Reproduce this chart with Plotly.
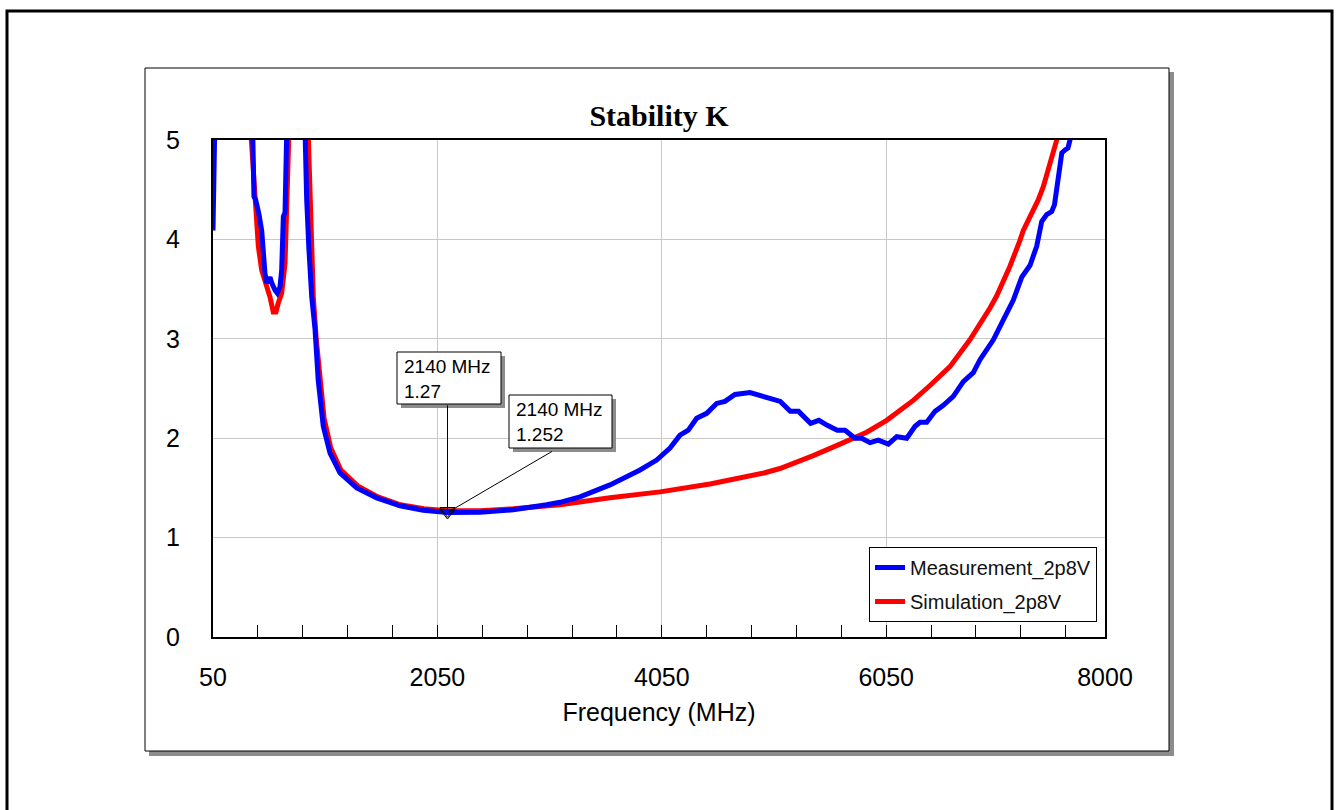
import plotly.graph_objects as go

# ---- data -------------------------------------------------------------
meas_freq = [50, 60, 200, 380, 409, 415, 430, 442, 460, 484, 498, 513, 529, 545,
             558, 574, 588, 603, 623, 647, 662, 677, 692, 707, 721, 740, 780, 830,
             866, 885, 905, 930, 959, 988, 1033, 1093, 1182, 1331, 1509, 1717,
             1924, 2140, 2430, 2726, 3024, 3143, 3321, 3588, 3856, 4004, 4123,
             4212, 4286, 4361, 4450, 4539, 4613, 4702, 4836, 4955, 5106, 5195,
             5269, 5376, 5450, 5525, 5614, 5683, 5772, 5831, 5906, 5980, 6069,
             6144, 6233, 6307, 6351, 6411, 6485, 6559, 6648, 6737, 6826, 6886,
             7005, 7094, 7183, 7258, 7332, 7391, 7436, 7480, 7525, 7550, 7585,
             7615, 7644, 7670, 7688, 7720]
meas_k = [4.09, 12.0, 14.0, 6.5, 5.0, 4.43, 4.40, 4.35, 4.25, 4.09, 3.76, 3.66,
          3.56, 3.60, 3.62, 3.56, 3.52, 3.49, 3.46, 3.52, 3.69, 4.23, 4.27, 4.77,
          5.0, 6.5, 9.0, 7.0, 5.05, 4.4, 3.9, 3.42, 3.1, 2.58, 2.12, 1.85, 1.65,
          1.50, 1.40, 1.32, 1.275, 1.252, 1.255, 1.28, 1.33, 1.355, 1.41, 1.53,
          1.68, 1.78, 1.90, 2.03, 2.08, 2.20, 2.25, 2.35, 2.37, 2.44, 2.46, 2.42,
          2.37, 2.27, 2.27, 2.15, 2.18, 2.13, 2.08, 2.08, 2.0, 2.0, 1.955, 1.98,
          1.94, 2.015, 2.0, 2.12, 2.16, 2.16, 2.27, 2.33, 2.42, 2.57, 2.66, 2.79,
          2.99, 3.19, 3.39, 3.62, 3.74, 3.93, 4.18, 4.25, 4.28, 4.35, 4.60, 4.87,
          4.90, 4.92, 5.0, 5.3]

sim_freq = [50, 200, 389, 424, 454, 484, 529, 558, 587, 611, 632, 662, 692, 707,
            727, 760, 830, 899, 920, 944, 970, 1000, 1040, 1100, 1190, 1340, 1520,
            1720, 1930, 2140, 2430, 2726, 3024, 3143, 3588, 4034, 4480, 4836, 4960,
            5103, 5250, 5400, 5638, 5876, 6054, 6291, 6440, 6589, 6618, 6796, 6915,
            6975, 7034, 7153, 7242, 7272, 7332, 7406, 7450, 7570, 7620]
sim_k = [20.0, 12.0, 5.05, 4.33, 3.93, 3.69, 3.54, 3.42, 3.27, 3.27, 3.36, 3.46,
         3.76, 4.27, 5.0, 8.0, 9.0, 5.05, 4.3, 3.42, 3.0, 2.62, 2.2, 1.9, 1.68,
         1.52, 1.41, 1.33, 1.29, 1.27, 1.27, 1.29, 1.31, 1.33, 1.40, 1.46, 1.54,
         1.62, 1.65, 1.695, 1.755, 1.825, 1.94, 2.06, 2.18, 2.38, 2.53, 2.69,
         2.72, 2.99, 3.19, 3.31, 3.43, 3.73, 3.99, 4.09, 4.23, 4.40, 4.53, 5.0,
         5.4]

marker_freq = 2140
marker_sim_k = 1.27
marker_meas_k = 1.252

x_tick_vals = [50, 2050, 4050, 6050, 8000]
x_tick_text = ["50", "2050", "4050", "6050", "8000"]
x_minor_ticks = [450, 850, 1250, 1650, 2050, 2450, 2850, 3250, 3650, 4050, 4450,
                 4850, 5250, 5650, 6050, 6450, 6850, 7250, 7650]
y_tick_vals = [0, 1, 2, 3, 4, 5]

# ---- page geometry (pixels) --------------------------------------------
W, H = 1336, 810
L, R, T, B = 213, 1105, 140, 637          # plot area edges


def px(x):
    return (x - L) / (R - L)


def py(y):
    return (B - y) / (B - T)


SANS = "Liberation Sans, Arial, sans-serif"
SERIF = "Liberation Serif, Times New Roman, serif"

fig = go.Figure()

fig.add_trace(go.Scatter(
    x=sim_freq, y=sim_k, mode="lines", name="Simulation_2p8V",
    line=dict(color="#FF0000", width=5), legendrank=2, legendgroup="sim"))
fig.add_trace(go.Scatter(
    x=meas_freq, y=meas_k, mode="lines", name="Measurement_2p8V",
    line=dict(color="#0000FF", width=5), legendrank=1, legendgroup="meas"))

# marker triangles at 2140 MHz
fig.add_trace(go.Scatter(
    x=[marker_freq, marker_freq], y=[marker_sim_k, marker_meas_k],
    mode="markers", showlegend=False, hoverinfo="skip",
    marker=dict(symbol="triangle-down-open", size=13,
                color="black", line=dict(width=1, color="black"))))

shapes = []
# outer page border
shapes.append(dict(type="rect", xref="paper", yref="paper",
                   x0=px(7), x1=px(1332), y0=py(840), y1=py(11),
                   line=dict(color="black", width=3), layer="below"))
# chart frame with drop shadow
shapes.append(dict(type="rect", xref="paper", yref="paper",
                   x0=px(149), x1=px(1174), y0=py(756), y1=py(72),
                   fillcolor="#8C8C8C", line=dict(width=0), layer="below"))
shapes.append(dict(type="rect", xref="paper", yref="paper",
                   x0=px(145), x1=px(1169), y0=py(751), y1=py(68),
                   fillcolor="white", line=dict(color="black", width=1),
                   layer="below"))
# legend drop shadow
shapes.append(dict(type="rect", xref="paper", yref="paper",
                   x0=px(873), x1=px(1095), y0=py(621), y1=py(551),
                   fillcolor="#8C8C8C", line=dict(width=0), layer="above"))

# marker label boxes (shadow + box)
label_boxes = [((397, 352), (501, 404)), ((509, 395), (612, 448))]
for (x0, y0), (x1, y1) in label_boxes:
    shapes.append(dict(type="rect", xref="paper", yref="paper",
                       x0=px(x0 + 4), x1=px(x1 + 4), y0=py(y1 + 4), y1=py(y0 + 4),
                       fillcolor="#8C8C8C", line=dict(width=0), layer="above"))
    shapes.append(dict(type="rect", xref="paper", yref="paper",
                       x0=px(x0), x1=px(x1), y0=py(y1), y1=py(y0),
                       fillcolor="white", line=dict(color="black", width=1),
                       layer="above"))

annotations = [
    # leader lines from the label boxes to the marker
    dict(x=marker_freq, y=marker_sim_k, xref="x", yref="y", text="",
         showarrow=True, arrowhead=0, arrowwidth=1, arrowcolor="black",
         ax=0, ay=-107, standoff=0),
    dict(x=marker_freq, y=marker_meas_k, xref="x", yref="y", text="",
         showarrow=True, arrowhead=0, arrowwidth=1, arrowcolor="black",
         ax=106, ay=-62, standoff=0),
    dict(x=px(402), y=py(379), xref="paper", yref="paper",
         text=f"{marker_freq} MHz<br>{marker_sim_k}", showarrow=False,
         xanchor="left", yanchor="middle", align="left",
         font=dict(family=SANS, size=19, color="black")),
    dict(x=px(514), y=py(422), xref="paper", yref="paper",
         text=f"{marker_freq} MHz<br>{marker_meas_k}", showarrow=False,
         xanchor="left", yanchor="middle", align="left",
         font=dict(family=SANS, size=19, color="black")),
]

fig.update_layout(
    width=W, height=H,
    margin=dict(l=L, r=W - R, t=T, b=H - B, pad=0),
    paper_bgcolor="white", plot_bgcolor="white",
    title=dict(text="<b>Stability K</b>", x=0.5, xref="paper",
               y=1 - 115 / H, yref="container", yanchor="middle",
               xanchor="center",
               font=dict(family=SERIF, size=30, color="black")),
    shapes=shapes, annotations=annotations,
    legend=dict(x=px(869), y=py(547), xanchor="left", yanchor="top",
                bgcolor="white", bordercolor="black", borderwidth=1,
                font=dict(family=SANS, size=20, color="#111111"),
                tracegroupgap=5, itemwidth=30),
    showlegend=True,
)

fig.update_xaxes(
    range=[50, 8000], tickmode="array", tickvals=x_tick_vals,
    ticktext=x_tick_text, ticks="", showgrid=True, gridcolor="#C8C8C8",
    gridwidth=1, zeroline=False, showline=True, linecolor="black",
    linewidth=2, mirror=True,
    tickfont=dict(family=SANS, size=25, color="black"),
    ticklabelstandoff=17,
    minor=dict(tickmode="array", tickvals=x_minor_ticks, ticks="inside",
               ticklen=12, tickwidth=1, tickcolor="black", showgrid=False),
    title=dict(text="Frequency (MHz)", standoff=13,
               font=dict(family=SANS, size=25, color="black")),
)
fig.update_yaxes(
    range=[0, 5], tickmode="array", tickvals=y_tick_vals, ticks="",
    showgrid=True, gridcolor="#C8C8C8", gridwidth=1, zeroline=False,
    showline=True, linecolor="black", linewidth=2, mirror=True,
    tickfont=dict(family=SANS, size=25, color="black"),
    ticklabelstandoff=26,
)

fig.write_html("out.html")
